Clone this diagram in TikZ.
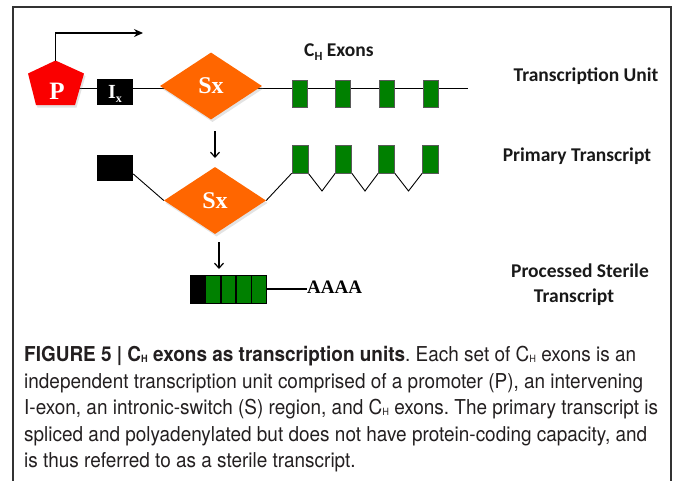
\documentclass[tikz,border=0pt]{standalone}
\usepackage{fontspec}
\setmainfont{Liberation Serif}
\newfontfamily\labfont{Carlito}
\newfontfamily\capfont[FakeStretch=0.925]{TeX Gyre Heros}
\usetikzlibrary{shapes.geometric,arrows.meta,shadows,backgrounds}
\definecolor{sxorange}{RGB}{255,102,0}
\definecolor{exgreen}{RGB}{0,128,0}
\definecolor{capgray}{RGB}{35,31,32}
\definecolor{promred}{RGB}{250,0,0}
\frenchspacing
\begin{document}
\begin{tikzpicture}[x=1pt,y=-1pt,
  softshadow/.style={drop shadow={opacity=0.22,shadow xshift=1.5pt,shadow yshift=-2.5pt}},
  exon/.style={draw=black!65,line width=0.6pt,fill=exgreen,minimum width=15pt,minimum height=27pt,inner sep=0pt},
  pexon/.style={draw=black,line width=0.8pt,fill=exgreen,minimum width=14.5pt,minimum height=28pt,inner sep=0pt},
  blackbox/.style={fill=black,minimum width=36pt,minimum height=26pt,inner sep=0pt},
  sxbox/.style={diamond,fill=sxorange,minimum width=102pt,minimum height=67pt,inner sep=0pt,
     text=white,font=\bfseries\fontsize{24}{24}\selectfont,softshadow},
  lbl/.style={font=\labfont\bfseries\fontsize{19.5}{23}\selectfont,text=black!90,inner sep=0pt},
  capline/.style={anchor=base west,inner sep=0pt,font=\capfont\fontsize{20.5}{24}\selectfont,text=capgray},
  mainline/.style={line width=1.3pt},
  thinline/.style={line width=0.9pt},
  downarrow/.style={line width=1.1pt,-{Straight Barb[length=5pt,width=9pt,line width=1.2pt]}},
  tssarrow/.style={line width=1.3pt,-{Stealth[length=9pt,width=8pt]}},
  frameline/.style={draw=black!80,line width=1.3pt}]
\useasboundingbox (0,0) rectangle (674,480);
% frame
\draw[frameline] (13,482) -- (13,7) -- (671,7) -- (671,482);

% ---------- Transcription unit ----------
\fill[promred,softshadow] (55.5,60.5) -- (84,73.5) -- (75,105) -- (36,105) -- (28,73.5) -- cycle;
\node[text=white,font=\bfseries\fontsize{25}{25}\selectfont,inner sep=0pt] (pent) at (57,91.5) {P};
\coordinate (ptop) at (55.5,61);
\coordinate (tss) at (143,33);
\node[blackbox] (ix) at (115,92) {};
\node[text=white,font=\bfseries\fontsize{20}{20}\selectfont,inner sep=0pt,anchor=base] (ixt) at (ix.center) [yshift=-6.5pt] {I\raisebox{-4pt}{\fontsize{12}{12}\selectfont x}};
\node[sxbox] (sx1) at (211,86) {Sx};
\node[exon] (e11) at (299.5,93.5) {};
\node[exon] (e12) at (342.5,93.5) {};
\node[exon] (e13) at (386.5,93.5) {};
\node[exon] (e14) at (430.5,93.5) {};
\coordinate (end1) at (468,88.5);
\node[lbl,anchor=base west] (chex) at (304,56) {C\raisebox{-4pt}{\fontsize{12.5}{12.5}\selectfont H} Exons};
\node[lbl,anchor=base] (tu) at (586,81) {Transcription Unit};

% ---------- Primary transcript ----------
\node[blackbox] (box2) at (115,168) {};
\node[sxbox] (sx2) at (215,200.5) {Sx};
\node[exon,minimum width=16pt,minimum height=28pt] (e21) at (300,159) {};
\node[exon,minimum width=16pt,minimum height=28pt] (e22) at (343.5,159) {};
\node[exon,minimum width=16pt,minimum height=28pt] (e23) at (386.5,159) {};
\node[exon,minimum width=16pt,minimum height=28pt] (e24) at (430.5,159) {};
\coordinate (v1) at (322,191);
\coordinate (v2) at (365,191);
\coordinate (v3) at (408.5,191);
\node[lbl,anchor=base] (pt) at (577,161) {Primary Transcript};

% ---------- Processed sterile transcript ----------
\node[pexon,fill=black,minimum width=15pt] (pb) at (197.5,289) {};
\node[pexon,anchor=west] (p1) at (pb.east) {};
\node[pexon,anchor=west] (p2) at (p1.east) {};
\node[pexon,anchor=west] (p3) at (p2.east) {};
\node[pexon,anchor=west] (p4) at (p3.east) {};
\node[anchor=base west,inner sep=0pt,font=\bfseries\fontsize{19}{19}\selectfont] (aaaa) at (307,293.5) {AAAA};
\node[lbl,anchor=base,align=center] (pst) at (580,277) {Processed Sterile};
\node[lbl,anchor=base] (pst2) at (574,302) {Transcript};

% arrows
\coordinate (a1s) at (215,131);
\coordinate (a1e) at (215,158);
\coordinate (a2s) at (219,242);
\coordinate (a2e) at (219,269);
\draw[downarrow] (a1s) -- (a1e);
\draw[downarrow] (a2s) -- (a2e);
\draw[tssarrow] (ptop) |- (tss);

\begin{pgfonlayer}{background}
\draw[mainline] (pent.center |- end1) -- (end1);
\draw[thinline] (box2.-18) -- (sx2.west);
\draw[thinline] (sx2.east) -- (e21.south west);
\draw[thinline] (e21.south east) -- (v1) -- (e22.south west);
\draw[thinline] (e22.south east) -- (v2) -- (e23.south west);
\draw[thinline] (e23.south east) -- (v3) -- (e24.south west);
\draw[mainline] (p4.east) -- (aaaa.base west |- p4.east);
\end{pgfonlayer}

% ---------- Caption ----------
\node[capline] (c1) at (24,361) {\textbf{FIGURE 5 | C\raisebox{-1pt}{\fontsize{10}{10}\selectfont H} exons as transcription units}. Each set of C\raisebox{-1pt}{\fontsize{10}{10}\selectfont H} exons is an};
\node[capline] (c2) at (24,388) {independent transcription unit comprised of a promoter (P), an intervening};
\node[capline] (c3) at (24,414.5) {I-exon, an intronic-switch (S) region, and C\raisebox{-1pt}{\fontsize{10}{10}\selectfont H} exons. The primary transcript is};
\node[capline] (c4) at (24,441) {spliced and polyadenylated but does not have protein-coding capacity, and};
\node[capline] (c5) at (24,467) {is thus referred to as a sterile transcript.};
\end{tikzpicture}
\end{document}
